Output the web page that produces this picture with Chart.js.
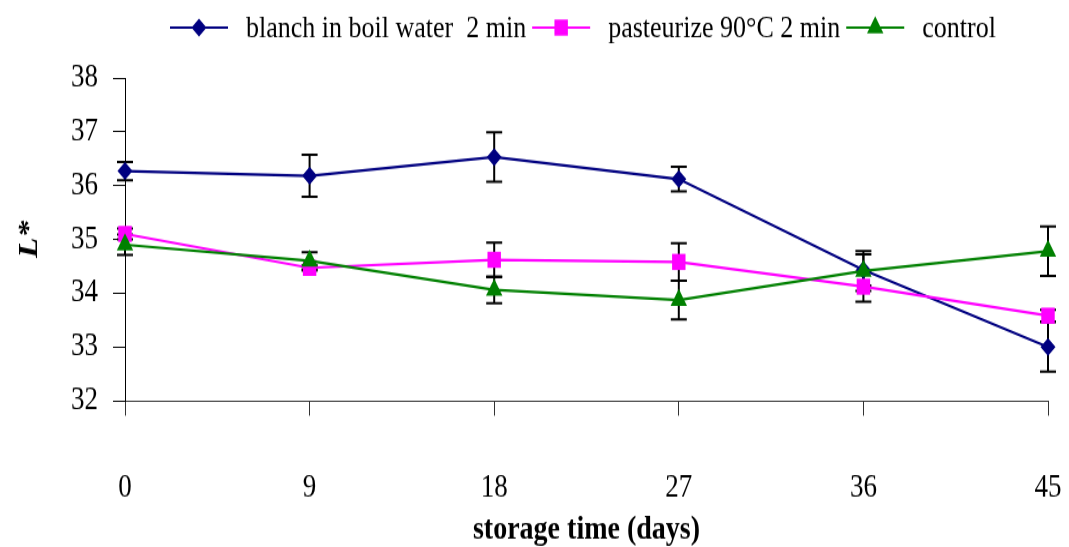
<!DOCTYPE html>
<html>
<head>
<meta charset="utf-8">
<script src="https://cdn.jsdelivr.net/npm/chart.js@4/dist/chart.umd.min.js"></script>
<style>
  html, body { margin: 0; padding: 0; background: #fff; }
</style>
</head>
<body>
<!-- drawn at 456px tall, shown at 547px: the serif type is tall and narrow -->
<canvas id="chart" width="1069" height="456" style="display:block;width:1069px;height:547px"></canvas>
<script>
const days = ['0', '9', '18', '27', '36', '45'];

const blanch = [36.27, 36.18, 36.53, 36.12, 34.43, 33.0];
const blanchErr = [0.17, 0.39, 0.46, 0.23, 0.29, 0.46];

const pasteurize = [35.1, 34.47, 34.62, 34.58, 34.12, 33.58];
const pasteurizeErr = [0.1, 0.05, 0.32, 0.35, 0.28, 0.11];

const control = [34.9, 34.6, 34.06, 33.87, 34.41, 34.78];
const controlErr = [0.19, 0.16, 0.25, 0.36, 0.37, 0.46];

const FONT = '"Liberation Serif", "Times New Roman", serif';

// vertical error bars with caps, under the lines and markers
const errorBars = {
    id: 'errorBars',
    beforeDatasetsDraw(chart) {
        const ctx = chart.ctx;
        const x = chart.scales.x, y = chart.scales.y;
        ctx.save();
        ctx.strokeStyle = '#000';
        ctx.lineWidth = 2;
        chart.data.datasets.forEach(ds => {
            ds.data.forEach((v, j) => {
                const px = x.getPixelForValue(j);
                const top = y.getPixelForValue(v + ds.errors[j]);
                const bot = y.getPixelForValue(v - ds.errors[j]);
                ctx.beginPath();
                ctx.moveTo(px, top); ctx.lineTo(px, bot);
                ctx.moveTo(px - 8, top); ctx.lineTo(px + 8, top);
                ctx.moveTo(px - 8, bot); ctx.lineTo(px + 8, bot);
                ctx.stroke();
            });
        });
        ctx.restore();
    }
};

// legend row: short line with the marker on it, then the label
const lineLegend = {
    id: 'lineLegend',
    afterDraw(chart) {
        const ctx = chart.ctx;
        const y = 23;
        let x = 170;
        ctx.save();
        ctx.font = '26px ' + FONT;
        ctx.textBaseline = 'middle';
        chart.data.datasets.forEach(ds => {
            ctx.strokeStyle = ds.borderColor;
            ctx.lineWidth = ds.borderWidth;
            ctx.beginPath();
            ctx.moveTo(x, y);
            ctx.lineTo(x + 58, y);
            ctx.stroke();
            ctx.fillStyle = ds.pointBackgroundColor;
            Chart.helpers.drawPoint(ctx, {
                pointStyle: ds.pointStyle,
                radius: ds.pointRadius,
                rotation: 0,
                borderWidth: 0
            }, x + 29, y);
            ctx.fillStyle = '#000';
            ctx.textAlign = 'left';
            ctx.fillText(ds.label, x + 76, y + 1);
            x += 76 + ctx.measureText(ds.label).width + 6;
        });
        ctx.restore();
    }
};

new Chart(document.getElementById('chart'), {
    type: 'line',
    data: {
        labels: days,
        datasets: [
            {
                label: 'blanch in boil water  2 min',
                data: blanch,
                errors: blanchErr,
                borderColor: '#000080',
                backgroundColor: '#000080',
                pointBackgroundColor: '#000080',
                pointBorderWidth: 0,
                pointStyle: 'rectRot',
                pointRadius: 7.5,
                borderWidth: 2.2,
                clip: false,
                order: 3
            },
            {
                label: 'pasteurize 90°C 2 min',
                data: pasteurize,
                errors: pasteurizeErr,
                borderColor: '#ff00ff',
                backgroundColor: '#ff00ff',
                pointBackgroundColor: '#ff00ff',
                pointBorderWidth: 0,
                pointStyle: 'rect',
                pointRadius: 9.5,
                borderWidth: 2.2,
                clip: false,
                order: 2
            },
            {
                label: 'control',
                data: control,
                errors: controlErr,
                borderColor: '#008000',
                backgroundColor: '#008000',
                pointBackgroundColor: '#008000',
                pointBorderWidth: 0,
                pointStyle: 'triangle',
                pointRadius: 9.5,
                borderWidth: 2.2,
                clip: false,
                order: 1
            }
        ]
    },
    options: {
        responsive: false,
        animation: false,
        devicePixelRatio: 1,
        layout: {
            padding: { top: 65, right: 21, left: 0, bottom: 0 }
        },
        elements: {
            line: { tension: 0 }
        },
        plugins: {
            legend: { display: false },
            tooltip: { enabled: false }
        },
        scales: {
            x: {
                type: 'category',
                offset: false,
                grid: {
                    drawOnChartArea: false,
                    tickLength: 12.5,
                    color: '#333'
                },
                border: { color: '#333', width: 1 },
                ticks: {
                    color: '#000',
                    font: { family: FONT, size: 27 },
                    padding: 44,
                    maxRotation: 0
                },
                title: {
                    display: true,
                    text: 'storage time (days)',
                    color: '#000',
                    font: { family: FONT, size: 28, weight: 'bold', lineHeight: 1 },
                    padding: { top: 0, bottom: 0 }
                },
                afterFit(scale) {
                    scale.height = 122;
                    scale.paddingLeft = 0;
                    scale.paddingRight = 0;
                }
            },
            y: {
                min: 32,
                max: 38,
                grid: {
                    drawOnChartArea: false,
                    tickLength: 12,
                    color: '#000'
                },
                border: { color: '#000', width: 1 },
                ticks: {
                    stepSize: 1,
                    color: '#000',
                    font: { family: FONT, size: 27 },
                    padding: 15
                },
                title: {
                    display: true,
                    text: 'L*',
                    color: '#000',
                    font: { family: FONT, size: 28, weight: 'bold', style: 'italic', lineHeight: 1 },
                    padding: { top: 16, bottom: 0 }
                },
                afterFit(scale) { scale.width = 125; }
            }
        }
    },
    plugins: [errorBars, lineLegend]
});
</script>
</body>
</html>
